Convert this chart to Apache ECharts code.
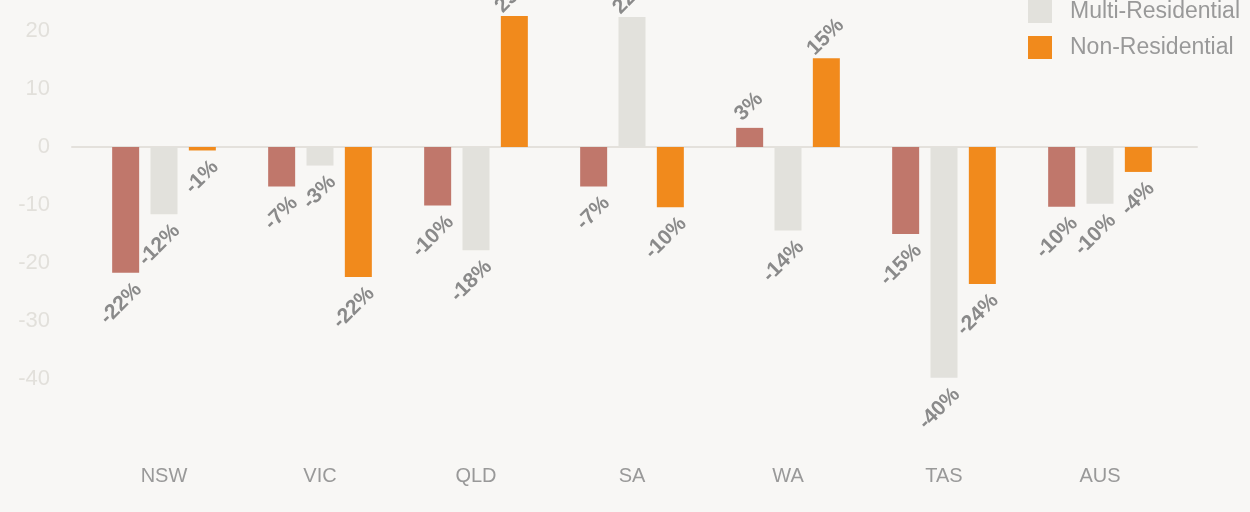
<!DOCTYPE html>
<html>
<head>
<meta charset="utf-8">
<script src="https://cdn.jsdelivr.net/npm/echarts@6/dist/echarts.min.js"></script>
<style>
  html, body { margin: 0; padding: 0; background: #f8f7f5; }
  #chart { width: 1250px; height: 512px; }
</style>
</head>
<body>
<div id="chart"></div>
<script>
var states = ['NSW', 'VIC', 'QLD', 'SA', 'WA', 'TAS', 'AUS'];
var seriesNames = ['Residential', 'Multi-Residential', 'Non-Residential'];
var residential = [-21.7, -6.8, -10.1, -6.8, 3.3, -15.0, -10.3];
var multiResidential = [-11.6, -3.2, -17.8, 22.4, -14.4, -39.8, -9.8];
var nonResidential = [-0.6, -22.4, 22.6, -10.4, 15.3, -23.6, -4.3];
var colors = ['#c0776b', '#e2e1dc', '#f18a1c'];

var chartDom = document.getElementById('chart');
var myChart = echarts.init(chartDom);

var labelBase = {
    show: true,
    rotate: 45,
    color: '#8a8a8a',
    fontSize: 21,
    fontWeight: 'bold',
    fontFamily: 'Liberation Sans',
    verticalAlign: 'middle',
    formatter: function (p) {
        return Math.round(p.value) + '%';
    }
};

// 正负值的标签放在柱子两端
function withLabels(values) {
    return values.map(function (v) {
        var lbl = v < 0
            ? Object.assign({}, labelBase, { position: 'bottom', align: 'right', offset: [3, 15] })
            : Object.assign({}, labelBase, { position: 'top', align: 'center', offset: [11, -12] });
        return { value: v, label: lbl };
    });
}

var allValues = [residential, multiResidential, nonResidential];

var option = {
    backgroundColor: '#f8f7f5',
    textStyle: { fontFamily: 'Liberation Sans' },
    legend: {
        data: seriesNames,
        orient: 'vertical',
        right: 5,
        top: -41,
        itemWidth: 24,
        itemHeight: 23,
        itemGap: 13,
        icon: 'rect',
        textStyle: { color: '#999', fontSize: 23, padding: [0, 0, 0, 13] }
    },
    grid: [
        { left: 86, right: 72, top: -27, bottom: 75, outerBoundsMode: 'none' },
        { left: 72, right: 53, top: -27, bottom: 75, outerBoundsMode: 'none' }
    ],
    xAxis: [{
        type: 'category',
        data: states,
        gridIndex: 0,
        axisLine: { show: false },
        axisTick: { show: false },
        axisLabel: { color: '#999', fontSize: 20, margin: 29 }
    }, {
        type: 'value',
        gridIndex: 1,
        min: 0,
        max: 1,
        axisLine: { show: true, onZero: true, lineStyle: { color: '#e4e1dc', width: 2 } },
        axisTick: { show: false },
        axisLabel: { show: false },
        splitLine: { show: false }
    }],
    yAxis: [{
        type: 'value',
        gridIndex: 0,
        min: -50,
        max: 30,
        interval: 10,
        axisLine: { show: false },
        axisTick: { show: false },
        splitLine: { show: false },
        axisLabel: { color: '#e2e0db', fontSize: 22, margin: 36, showMinLabel: false }
    }, {
        type: 'value',
        gridIndex: 1,
        min: -50,
        max: 30,
        show: false
    }],
    series: allValues.map(function (vals, i) {
        return {
            name: seriesNames[i],
            type: 'bar',
            xAxisIndex: 0,
            yAxisIndex: 0,
            barWidth: 27,
            barGap: '42%',
            itemStyle: { color: colors[i] },
            data: withLabels(vals)
        };
    })
};

myChart.setOption(option);
</script>
</body>
</html>
